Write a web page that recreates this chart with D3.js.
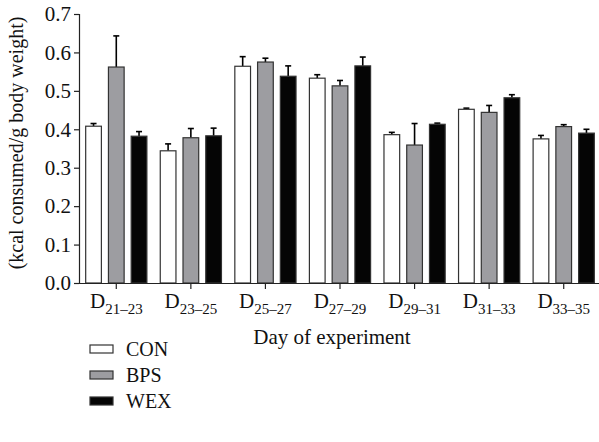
<!DOCTYPE html>
<html><head><meta charset="utf-8">
<script src="https://cdn.jsdelivr.net/npm/d3@7"></script>
<style>body{margin:0;background:#fff}svg{display:block}text{font-family:"Liberation Serif",serif;fill:#111}</style>
</head><body><div id="c"></div>
<script>
const categories = ["21\u201323","23\u201325","25\u201327","27\u201329","29\u201331","31\u201333","33\u201335"];
const series = ["CON","BPS","WEX"];
const conValues = [0.408,0.344,0.564,0.533,0.386,0.452,0.375];
const conErrors = [0.007,0.018,0.025,0.009,0.006,0.003,0.009];
const bpsValues = [0.562,0.378,0.575,0.513,0.359,0.444,0.407];
const bpsErrors = [0.081,0.024,0.010,0.014,0.056,0.018,0.005];
const wexValues = [0.382,0.383,0.538,0.565,0.413,0.482,0.390];
const wexErrors = [0.012,0.020,0.027,0.023,0.003,0.008,0.010];
const yTicks = [0,0.1,0.2,0.3,0.4,0.5,0.6,0.7];
const colors = {CON:"#ffffff",BPS:"#9d9da1",WEX:"#050505"};

const W=599,H=442;
const svg=d3.select("#c").append("svg").attr("width",W).attr("height",H);
const x0=d3.scaleBand().domain(categories).range([79,601]).paddingInner(0).paddingOuter(0);
const x1=d3.scaleBand().domain(series).range([-30.6,30.6]).paddingInner(0.31).paddingOuter(0);
const y=d3.scaleLinear().domain([0,0.7]).range([283,14]);

const data=categories.map((c,i)=>({c,vals:[
 {s:"CON",v:conValues[i],e:conErrors[i]},
 {s:"BPS",v:bpsValues[i],e:bpsErrors[i]},
 {s:"WEX",v:wexValues[i],e:wexErrors[i]}]}));

const g=svg.append("g");
const grp=g.selectAll("g.grp").data(data).join("g").attr("class","grp")
 .attr("transform",d=>`translate(${x0(d.c)+x0.bandwidth()/2},0)`);
grp.selectAll("line.err").data(d=>d.vals).join("line")
 .attr("x1",d=>x1(d.s)+x1.bandwidth()/2).attr("x2",d=>x1(d.s)+x1.bandwidth()/2)
 .attr("y1",d=>y(d.v)).attr("y2",d=>y(d.v+d.e)).attr("stroke","#000").attr("stroke-width",1.6);
grp.selectAll("line.cap").data(d=>d.vals).join("line")
 .attr("x1",d=>x1(d.s)+x1.bandwidth()/2-3).attr("x2",d=>x1(d.s)+x1.bandwidth()/2+3)
 .attr("y1",d=>y(d.v+d.e)).attr("y2",d=>y(d.v+d.e)).attr("stroke","#000").attr("stroke-width",1.6);
grp.selectAll("rect").data(d=>d.vals).join("rect")
 .attr("x",d=>x1(d.s)).attr("width",x1.bandwidth())
 .attr("y",d=>y(d.v)).attr("height",d=>y(0)-y(d.v))
 .attr("fill",d=>colors[d.s]).attr("stroke","#333").attr("stroke-width",1.2);

const ya=svg.append("g").attr("transform","translate(79,0)")
 .call(d3.axisLeft(y).tickValues(yTicks).tickFormat(d3.format(".1f")).tickSize(5).tickPadding(3));
ya.select(".domain").attr("stroke","#222").attr("stroke-width",1.2);
ya.selectAll(".tick line").attr("stroke","#222").attr("stroke-width",1.2);
ya.selectAll(".tick text").attr("font-size",21).attr("font-family","Liberation Serif").attr("fill","#111");

const xa=svg.append("g").attr("transform","translate(0,283)")
 .call(d3.axisBottom(x0).tickSize(6).tickSizeOuter(0).tickFormat(""));
xa.select(".domain").attr("stroke","#222").attr("stroke-width",1.2);
xa.selectAll(".tick line").attr("stroke","#222").attr("stroke-width",1.2);
xa.selectAll(".tick").append("text").attr("y",25).attr("text-anchor","middle")
 .attr("font-size",21).attr("fill","#111")
 .each(function(d){const t=d3.select(this);t.append("tspan").text("D");
   t.append("tspan").attr("dy",6).attr("font-size",15).text(d);});

svg.append("text").attr("x",332).attr("y",344).attr("text-anchor","middle").attr("font-size",21).text("Day of experiment");
svg.append("text").attr("transform","translate(23,143) rotate(-90)").attr("text-anchor","middle").attr("font-size",20)
 .text("(kcal consumed/g body weight)");

const lg=svg.append("g").selectAll("g").data(series).join("g")
 .attr("transform",(d,i)=>`translate(90,${349+i*26})`);
lg.append("rect").attr("x",0).attr("y",-4).attr("width",23).attr("height",8)
 .attr("fill",d=>colors[d]).attr("stroke","#333").attr("stroke-width",1.2);
lg.append("text").attr("x",36).attr("y",7).attr("font-size",20).text(d=>d);
</script></body></html>
